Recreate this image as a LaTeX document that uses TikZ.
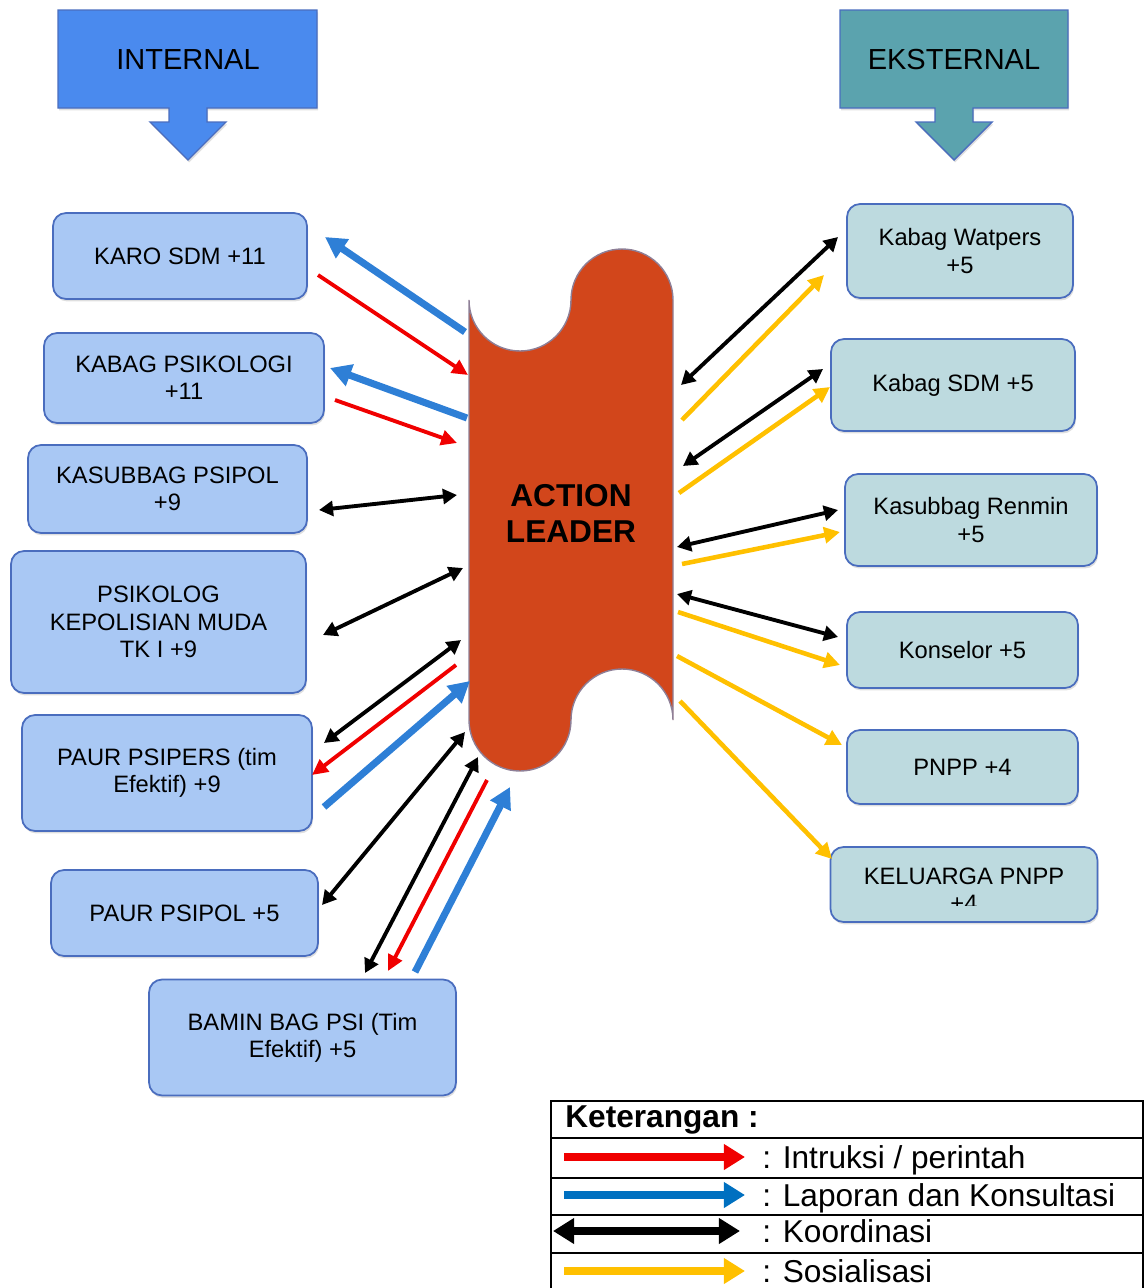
\documentclass[tikz,border=0pt]{standalone}
\usepackage{fontspec}
\setmainfont{Liberation Sans}
\usetikzlibrary{arrows.meta,positioning,shadows}

\definecolor{intfill}{HTML}{A9C8F4}
\definecolor{eksfill}{HTML}{BDDADF}
\definecolor{boxline}{HTML}{4A6DBE}
\definecolor{intcall}{HTML}{4A8AEE}
\definecolor{ekscall}{HTML}{5BA3AE}
\definecolor{leadcol}{HTML}{D2461B}
\definecolor{leadline}{HTML}{8E7F97}
\definecolor{instrcol}{HTML}{F00000}
\definecolor{laporcol}{HTML}{2E7FD6}
\definecolor{keyblue}{HTML}{0070C0}
\definecolor{sosialcol}{HTML}{FFC000}

\begin{document}
\begin{tikzpicture}[x=0.02cm, y=0.02cm,
  softshadow/.style={drop shadow={shadow xshift=0.6pt, shadow yshift=-1.4pt, opacity=0.25}},
  intbox/.style={draw=boxline, fill=intfill, line width=1pt, rounded corners=0.26cm, align=center, inner sep=0pt, font=\fontsize{13.5}{15.5}\selectfont, softshadow},
  eksbox/.style={intbox, fill=eksfill},
  instr/.style={draw=instrcol, line width=2.2pt, -{Triangle[length=9pt,width=8.5pt]}},
  lapor/.style={draw=laporcol, line width=4pt, -{Triangle[length=12pt,width=12.5pt]}},
  koord/.style={draw=black, line width=2.2pt, {Triangle[length=8pt,width=8.5pt]}-{Triangle[length=8pt,width=8.5pt]}},
  sosial/.style={draw=sosialcol, line width=2.6pt, -{Triangle[length=9pt,width=9pt]}},
  keyinstr/.style={draw=instrcol, line width=5pt, -{Triangle[length=12pt,width=14pt]}},
  keylapor/.style={draw=keyblue, line width=5pt, -{Triangle[length=12pt,width=14pt]}},
  keykoord/.style={draw=black, line width=5pt, {Triangle[length=12pt,width=14pt]}-{Triangle[length=12pt,width=14pt]}},
  keysosial/.style={draw=sosialcol, line width=5pt, -{Triangle[length=12pt,width=14pt]}}]
  \useasboundingbox (0,0) rectangle (1145,-1288);

  \draw[fill=intcall, draw=boxline, line width=0.8pt, softshadow] (58,-10) -- (317,-10) -- (317,-108) -- (207,-108) -- (207,-122) -- (226,-122) -- (188,-160) -- (150,-122) -- (169,-122) -- (169,-108) -- (58,-108) -- cycle;
  \node[font=\fontsize{16.5}{18}\selectfont] (internal) at (188,-60) {INTERNAL};
  \draw[fill=ekscall, draw=boxline, line width=0.8pt, softshadow] (840,-10) -- (1068,-10) -- (1068,-108) -- (973,-108) -- (973,-122) -- (992,-122) -- (954,-160) -- (916,-122) -- (935,-122) -- (935,-108) -- (840,-108) -- cycle;
  \node[font=\fontsize{16.5}{18}\selectfont] (eksternal) at (954,-60) {EKSTERNAL};

  \draw[fill=leadcol, draw=leadline, line width=0.8pt] (469,-300) arc[start angle=180, end angle=360, radius=51] arc[start angle=180, end angle=0, radius=51] -- (673,-720) arc[start angle=0, end angle=180, radius=51] arc[start angle=0, end angle=-180, radius=51] -- cycle;
  \node[font=\bfseries\fontsize{18}{20.5}\selectfont, align=center] (leader) at (571,-513) {ACTION\\LEADER};

  \node[intbox, minimum width=5.08cm, minimum height=1.72cm] (karo) at (180,-256) {KARO SDM +11};
  \node[intbox, minimum width=5.6cm, minimum height=1.8cm] (kabag) at (184,-378) {KABAG PSIKOLOGI\\+11};
  \node[intbox, minimum width=5.58cm, minimum height=1.76cm] (kasub) at (167.5,-489) {KASUBBAG PSIPOL\\+9};
  \node[intbox, minimum width=5.9cm, minimum height=2.84cm] (psikolog) at (158.5,-622) {PSIKOLOG\\KEPOLISIAN MUDA\\TK I +9};
  \node[intbox, minimum width=5.8cm, minimum height=2.32cm] (psipers) at (167,-773) {PAUR PSIPERS (tim\\Efektif) +9};
  \node[intbox, minimum width=5.34cm, minimum height=1.72cm] (psipol) at (184.5,-913) {PAUR PSIPOL +5};
  \node[intbox, minimum width=6.14cm, minimum height=2.32cm] (bamin) at (302.5,-1037.5) {BAMIN BAG PSI (Tim\\Efektif) +5};

  \node[eksbox, minimum width=4.52cm, minimum height=1.88cm] (watpers) at (960,-251) {Kabag Watpers\\+5};
  \node[eksbox, minimum width=4.88cm, minimum height=1.84cm] (sdm) at (953,-385) {Kabag SDM +5};
  \node[eksbox, minimum width=5.04cm, minimum height=1.84cm] (renmin) at (971,-520) {Kasubbag Renmin\\+5};
  \node[eksbox, minimum width=4.62cm, minimum height=1.52cm] (konselor) at (962.5,-650) {Konselor +5};
  \node[eksbox, minimum width=4.62cm, minimum height=1.48cm] (pnpp) at (962.5,-767) {PNPP +4};
  \node[eksbox, minimum width=5.34cm, minimum height=1.5cm] (keluarga) at (964,-884.5) {};
  \begin{scope}
    \clip (831,-848) rectangle (1098,-905);
    \node[font=\fontsize{13.5}{15.5}\selectfont, align=center] (keltext) at (964,-889.5) {KELUARGA PNPP\\+4};
  \end{scope}

  \foreach \kind/\n/\xa/\ya/\xb/\yb in {
    lapor/l1/465/332/325/237, instr/l2/318/275/468/375, lapor/l3/467/418/330/368, instr/l4/335/400/457/443,
    koord/l5/319/510/457/495, koord/l6/323/635/463/568, koord/l7/324/743/461/640, instr/l8/456/665/312/775,
    lapor/l9/324/807/470/681, koord/l10/322/905/465/732, koord/l11/365/973/478/757, instr/l12/487/780/388/971,
    lapor/l13/415/972/510/787,
    koord/r1/681/385/838/237, sosial/r2/682/420/824/275, koord/r3/683/466/823/369, sosial/r4/679/493/830/387,
    koord/r5/677/547/838/510, sosial/r6/682/564/840/532, koord/r7/677/594/838/637, sosial/r8/678/612/840/665,
    sosial/r9/677/656/842/745, sosial/r10/680/701/832/859}
  {
    \coordinate (\n a) at (\xa,-\ya);
    \coordinate (\n b) at (\xb,-\yb);
    \draw[\kind] (\n a) -- (\n b);
  }

  \draw[line width=1.1pt] (551,-1101) rectangle (1143,-1300);
  \foreach \y in {1138,1178,1215,1253}
    \draw[line width=1.1pt] (551,-\y) -- (1143,-\y);
  \node[anchor=base west, inner sep=0pt, font=\bfseries\fontsize{18}{20}\selectfont] (keterangan) at (565,-1127) {Keterangan :};
  \foreach \kind/\n/\xa/\xb/\y/\txt in {
    keyinstr/k1/564/745/1157/{: Intruksi / perintah}, keylapor/k2/564/745/1195/{: Laporan dan Konsultasi},
    keykoord/k3/553/740/1231/{: Koordinasi}, keysosial/k4/564/745/1271/{: Sosialisasi}}
  {
    \coordinate (\n a) at (\xa,-\y);
    \coordinate (\n b) at (\xb,-\y);
    \draw[\kind] (\n a) -- (\n b);
    \node[anchor=base west, inner sep=0pt, font=\fontsize{18}{20}\selectfont] (\n t) at (762,-\y-11) {\txt};
  }
\end{tikzpicture}
\end{document}
